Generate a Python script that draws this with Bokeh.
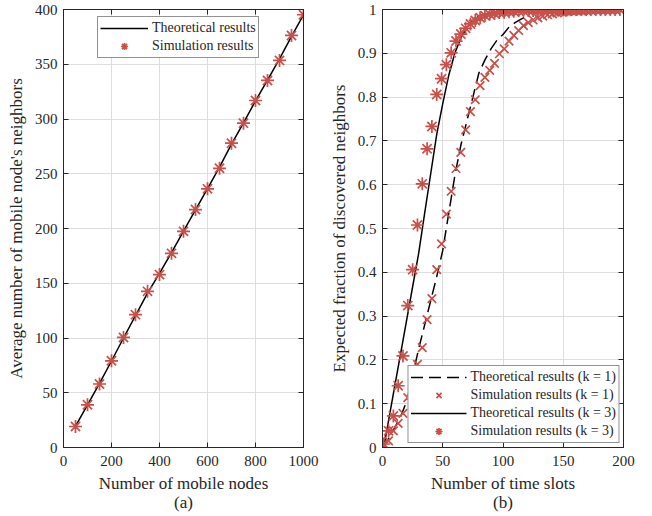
from bokeh.plotting import figure
from bokeh.layouts import row
from bokeh.models import (Range1d, FixedTicker, LinearAxis, Legend, LegendItem,
                          CustomJSTickFormatter)
from bokeh.embed import file_html
from bokeh.resources import INLINE

# ---------------- data: panel (a) ----------------
nodes = [50, 100, 150, 200, 250, 300, 350, 400, 450, 500,
         550, 600, 650, 700, 750, 800, 850, 900, 950, 1000]
avg_theory = [19.5, 39.0, 58.5, 79.0, 100.0, 120.5, 141.0, 159.0, 178.0, 197.5,
              217.0, 236.5, 256.0, 277.0, 296.5, 316.5, 335.5, 355.0, 375.5, 395.0]
avg_sim = [19.2, 39.0, 58.0, 79.2, 100.5, 121.3, 142.6, 157.9, 177.3, 197.4,
           217.3, 236.2, 255.0, 277.9, 296.2, 316.9, 335.2, 353.5, 376.3, 395.2]
ticks_a_x = [0, 200, 400, 600, 800, 1000]
ticks_a_y = [0, 50, 100, 150, 200, 250, 300, 350, 400]

# ---------------- data: panel (b) ----------------
slots = [1, 5, 9, 13, 17, 21, 25, 29, 33, 37, 41, 45, 49, 53, 57, 61, 65, 69, 73, 77,
         81, 85, 89, 93, 97, 101, 105, 109, 113, 117, 121, 125, 129, 133, 137, 141, 145,
         149, 153, 157, 161, 165, 169, 173, 177, 181, 185, 189, 193, 197]
sim_k1 = [0.004, 0.015, 0.038, 0.055, 0.078, 0.114, 0.150, 0.190, 0.228, 0.292,
          0.340, 0.406, 0.465, 0.533, 0.585, 0.637, 0.674, 0.725, 0.767, 0.794,
          0.826, 0.845, 0.861, 0.877, 0.899, 0.910, 0.928, 0.941, 0.952, 0.963,
          0.970, 0.976, 0.981, 0.985, 0.988, 0.990, 0.992, 0.994, 0.995, 0.996,
          0.997, 0.997, 0.998, 0.998, 0.999, 0.999, 0.999, 0.999, 1.000, 1.000]
sim_k3 = [0.008, 0.038, 0.072, 0.141, 0.209, 0.324, 0.406, 0.508, 0.602, 0.682,
          0.733, 0.806, 0.842, 0.874, 0.901, 0.928, 0.944, 0.957, 0.967, 0.975,
          0.981, 0.986, 0.989, 0.991, 0.993, 0.994, 0.995, 0.996, 0.997, 0.997,
          0.998, 0.998, 0.998, 0.999, 0.999, 0.999, 0.999, 0.999, 0.999, 1.000,
          1.000, 1.000, 1.000, 1.000, 1.000, 1.000, 1.000, 1.000, 1.000, 1.000]
theory_x_k1 = [0, 5, 10, 15, 20, 25, 30, 35, 40, 45, 50, 55, 60, 65, 70, 75, 80,
               85, 90, 95, 100, 105, 110, 115, 120]
theory_k1 = [0.0, 0.02, 0.045, 0.07, 0.105, 0.165, 0.225, 0.28, 0.335, 0.39, 0.45,
             0.535, 0.62, 0.69, 0.745, 0.80, 0.855, 0.885, 0.91, 0.93, 0.943, 0.96,
             0.97, 0.978, 0.985]
theory_x_k3 = [0, 1, 5, 10, 15, 20, 25, 30, 35, 40, 45, 50, 55, 60, 65, 70, 75, 80,
               90, 100, 110, 120]
theory_k3 = [0.0, 0.0, 0.061, 0.138, 0.214, 0.29, 0.367, 0.443, 0.535, 0.625, 0.715,
             0.785, 0.85, 0.9, 0.935, 0.958, 0.975, 0.985, 0.993, 0.998, 1.0, 1.0]
ticks_b_x = [0, 50, 100, 150, 200]
ticks_b_y = [0, 0.1, 0.2, 0.3, 0.4, 0.5, 0.6, 0.7, 0.8, 0.9, 1]

FONT = "Liberation Serif"
TXT = "#262626"
RED = "#c8504a"
GRID = "#dedede"

H = 515
BOTTOM = 68


def make_fig(width, left, right, xr, yr, xticks, yticks, xlabel, ylabel, sub, yfmt=None):
    p = figure(width=width, height=H, x_range=Range1d(*xr), y_range=Range1d(*yr),
               output_backend="svg", toolbar_location=None,
               min_border_left=left, min_border_right=right, min_border_top=9,
               min_border_bottom=BOTTOM)
    p.background_fill_color = "white"
    p.border_fill_color = "white"
    p.outline_line_color = TXT
    p.outline_line_width = 1
    p.xaxis.ticker = FixedTicker(ticks=xticks)
    p.yaxis.ticker = FixedTicker(ticks=yticks)
    if yfmt is not None:
        p.yaxis.formatter = yfmt
    p.xaxis.axis_label = xlabel + "\n" + sub
    p.yaxis.axis_label = ylabel
    for ax in (p.xaxis[0], p.yaxis[0]):
        ax.axis_line_color = TXT
        ax.major_tick_in = 5
        ax.major_tick_out = 0
        ax.major_tick_line_color = TXT
        ax.minor_tick_line_color = None
        ax.major_label_text_font = FONT
        ax.major_label_text_font_size = "15px"
        ax.major_label_text_color = TXT
        ax.axis_label_text_font = FONT
        ax.axis_label_text_font_size = "17px"
        ax.axis_label_text_font_style = "normal"
        ax.axis_label_text_color = TXT
    p.xaxis.axis_label_text_line_height = 1.05
    p.xaxis.major_label_standoff = 8
    p.xaxis.axis_label_standoff = 5
    p.yaxis.major_label_standoff = 6
    p.yaxis.axis_label_standoff = 6
    # mirrored axes (ticks only)
    for side, tick in (("above", xticks), ("right", yticks)):
        ax = LinearAxis(ticker=FixedTicker(ticks=tick))
        ax.major_label_text_font_size = "0px"
        ax.major_label_standoff = 0
        ax.axis_line_color = TXT
        ax.major_tick_in = 5
        ax.major_tick_out = 0
        ax.major_tick_line_color = TXT
        ax.minor_tick_line_color = None
        p.add_layout(ax, side)
    p.xgrid.ticker = FixedTicker(ticks=xticks)
    p.ygrid.ticker = FixedTicker(ticks=yticks)
    p.grid.grid_line_color = GRID
    p.grid.grid_line_width = 1
    return p


def style_legend(lg, glyph_w):
    lg.label_text_font = FONT
    lg.label_text_font_size = "14px"
    lg.label_text_color = TXT
    lg.border_line_color = TXT
    lg.border_line_width = 1
    lg.background_fill_alpha = 1
    lg.glyph_width = glyph_w
    lg.glyph_height = 18
    lg.label_height = 17
    lg.label_standoff = 4
    lg.padding = 2
    lg.spacing = 0
    lg.margin = 0


# ---------------- panel (a) ----------------
pa = make_fig(322, 63, 19, (0, 1000), (0, 400), ticks_a_x, ticks_a_y,
              "Number of mobile nodes", "Average number of mobile node's neighbors", "(a)")
la = pa.line(nodes, avg_theory, line_color="black", line_width=1.5)
sa = pa.scatter(nodes, avg_sim, marker="asterisk", size=13, line_color=RED, line_width=1.7)
lega = Legend(items=[LegendItem(label="Theoretical results", renderers=[la]),
                     LegendItem(label="Simulation results", renderers=[sa])],
              location=(34, 389))
style_legend(lega, 48)
pa.add_layout(lega, "center")

# ---------------- panel (b) ----------------
yfmt = CustomJSTickFormatter(code="return tick.toFixed(1).replace(/\\.0$/, '');")
pb = make_fig(323, 60, 22, (0, 200), (0, 1), ticks_b_x, ticks_b_y,
              "Number of time slots", "Expected fraction of discovered neighbors", "(b)", yfmt)
l1 = pb.line(theory_x_k1, theory_k1, line_color="black", line_width=1.5, line_dash="12 6")
l3 = pb.line(theory_x_k3, theory_k3, line_color="black", line_width=1.5)
s1 = pb.scatter(slots, sim_k1, marker="x", size=12, line_color=RED, line_width=1.7)
s3 = pb.scatter(slots, sim_k3, marker="asterisk", size=13, line_color=RED, line_width=1.7)
legb = Legend(items=[LegendItem(label="Theoretical results (k = 1)", renderers=[l1]),
                     LegendItem(label="Simulation results (k = 1)", renderers=[s1]),
                     LegendItem(label="Theoretical results (k = 3)", renderers=[l3]),
                     LegendItem(label="Simulation results (k = 3)", renderers=[s3])],
              location="bottom_right")
style_legend(legb, 56)
legb.margin = 4
pb.add_layout(legb, "center")

layout = row(pa, pb)
open("out.html", "w").write(file_html(layout, INLINE))
